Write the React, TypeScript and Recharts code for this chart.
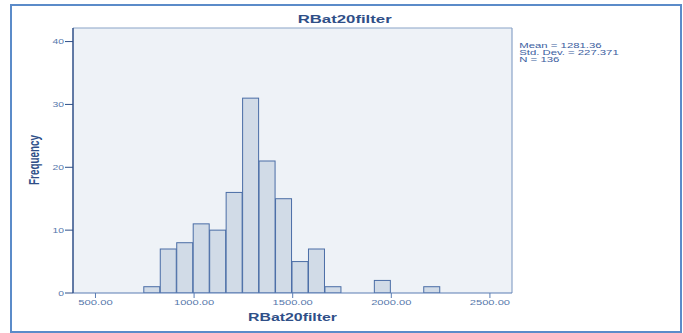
import React from 'react';
import { ComposedChart, Bar, XAxis, YAxis, CartesianGrid, ReferenceLine } from 'recharts';

const binStart = 745;
const binWidth = 83.5;
const counts = [1, 7, 8, 11, 10, 16, 31, 21, 15, 5, 7, 1, 0, 0, 2, 0, 0, 1];
const xTicks = [500, 1000, 1500, 2000, 2500];
const yTicks = [0, 10, 20, 30, 40];
const xDomain = [386, 2612];
const yDomain = [0, 42.16];
const title = 'RBat20filter';
const xLabel = 'RBat20filter';
const yLabel = 'Frequency';
const stats = ['Mean = 1281.36', 'Std. Dev. = 227.371', 'N = 136'];

const data = counts.map((c, i) => ({ mid: binStart + binWidth * (i + 0.5), count: c }));

const tickColor = '#5677ab';
const darkBlue = '#2f4f88';

const XTick = (props: any) => {
  const { x, y, payload } = props;
  const s = Number(payload.value).toFixed(2);
  return (
    <text x={x} y={y} dy="0.71em" textAnchor="middle" fontSize={7.5} fill={tickColor}
      fontFamily="Liberation Sans, Arial, sans-serif" textLength={s.length * 5.75} lengthAdjust="spacingAndGlyphs">{s}</text>
  );
};

const YTick = (props: any) => {
  const { x, y, payload } = props;
  const s = String(payload.value);
  return (
    <text x={x} y={y} dy="0.355em" textAnchor="end" fontSize={7.5} fill={tickColor}
      fontFamily="Liberation Sans, Arial, sans-serif" textLength={s.length * 5.75} lengthAdjust="spacingAndGlyphs">{s}</text>
  );
};

const BarShape = (props: any) => {
  const { x, y, width, height, payload } = props;
  if (!payload || !payload.count) return null;
  return <rect x={x} y={y} width={width} height={height} fill="#d1dbe7" stroke="#4a6da6" strokeWidth={1} />;
};

export default function App() {
  return (
    <div style={{ position: 'absolute', left: 0, top: 0, width: 683, height: 333, background: '#fff', fontFamily: 'Liberation Sans, Arial, sans-serif' }}>
      <ComposedChart width={683} height={333} data={data} margin={{ top: 28, right: 171, bottom: 10, left: 13 }} barCategoryGap={0} barGap={0}>
        <CartesianGrid fill="#eef2f7" stroke="none" horizontal={false} vertical={false} />
        <XAxis type="number" dataKey="mid" domain={xDomain} ticks={xTicks} allowDataOverflow height={30}
          tick={<XTick />} tickSize={5} tickMargin={2} axisLine={{ stroke: '#5a7db3', strokeWidth: 1.2 }} tickLine={{ stroke: '#5a7db3' }} />
        <YAxis type="number" domain={yDomain} ticks={yTicks} allowDataOverflow width={60}
          tick={<YTick />} tickSize={8} tickMargin={1} axisLine={{ stroke: darkBlue, strokeWidth: 1.5 }} tickLine={{ stroke: darkBlue }} />
        <ReferenceLine y={yDomain[1]} stroke="#8aa3c8" strokeWidth={1.2} ifOverflow="extendDomain" />
        <ReferenceLine x={xDomain[1]} stroke="#8aa3c8" strokeWidth={1.2} ifOverflow="extendDomain" />
        <Bar dataKey="count" isAnimationActive={false} shape={<BarShape />} />
      </ComposedChart>
      <svg width={683} height={333} style={{ position: 'absolute', left: 0, top: 0, pointerEvents: 'none' }}>
        <rect x={11} y={5} width={670} height={327} fill="none" stroke="#5b8bc9" strokeWidth={2} />
        <text x={297.7} y={23.3} fontSize={11.5} fontWeight="bold" fill={darkBlue} textLength={94} lengthAdjust="spacingAndGlyphs">{title}</text>
        <text x={248} y={320.7} fontSize={10.2} fontWeight="bold" fill={darkBlue} textLength={89} lengthAdjust="spacingAndGlyphs">{xLabel}</text>
        <text transform="translate(39,160) rotate(-90)" textAnchor="middle" fontSize={14} fontWeight="bold" fill={darkBlue} textLength={50} lengthAdjust="spacingAndGlyphs">{yLabel}</text>
        {stats.map((s, i) => (
          <text key={s} x={519.3} y={47.5 + i * 7} fontSize={6.8} fill="#3b5ea0"
            textLength={[82.3, 99.4, 40][i]} lengthAdjust="spacingAndGlyphs">{s}</text>
        ))}
      </svg>
    </div>
  );
}
